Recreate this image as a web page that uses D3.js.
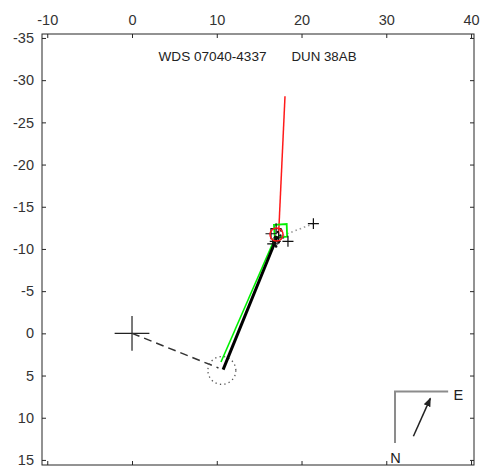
<!DOCTYPE html>
<html><head><meta charset="utf-8">
<script src="https://cdn.jsdelivr.net/npm/d3@7"></script>
<style>body{margin:0;background:#fff}svg{display:block}text{font-family:"Liberation Sans",Arial,sans-serif}</style>
</head><body><svg id="c" width="480" height="470"></svg>
<script>
const xTicks = [-10, 0, 10, 20, 30, 40];
const yTicks = [-35, -30, -25, -20, -15, -10, -5, 0, 5, 10, 15];
const xDomain = [-10.62, 40.35];
const yDomain = [-35.47, 15.6];
const titleLeft = "WDS 07040-4337";
const titleRight = "DUN 38AB";
const primary = [0, 0];
const dashedLine = [[0, 0], [10.2, 4.1]];
const dottedCircle = {c: [10.6, 4.4], r: 1.65};
const orbitBlack = [[10.75, 4.3], [17.15, -11.5]];
const orbitGreen = [[10.5, 3.4], [17.0, -11.6]];
const redLine = [[17.3, -11.8], [18.05, -28.1]];
const redCircle = {c: [17.05, -11.7], r: 0.77};
const greenSquare = [[16.75, -12.85], [18.25, -12.95], [18.3, -11.45], [16.85, -11.35]];
const greyDotted = [[17.8, -11.6], [21.4, -13.0]];
const obsPoints = [[16.4, -11.8], [16.6, -10.6], [18.4, -10.9], [21.4, -13.0], [17.3, -11.3], [17.0, -12.4], [16.9, -10.9]];
const blobPoints = [[17.2, -12.0], [17.5, -11.6], [16.9, -11.4], [17.3, -10.8], [17.0, -10.3], [17.6, -12.2]];
const compassCorner = [31.03, 6.9];
const compassN = [31.03, 13.0];
const compassE = [37.3, 6.9];
const compassArrow = [[33.2, 12.2], [35.2, 7.7]];
const labelE = [38.5, 7.3];
const labelN = [31.1, 14.8];

const svg = d3.select("#c");
const L = 42, R = 474, T = 34, B = 465;
const x = d3.scaleLinear().domain(xDomain).range([L, R]);
const y = d3.scaleLinear().domain(yDomain).range([T, B]);
const frameCol = "#262626";
const fmt = d => String(d);

svg.append("defs").append("marker").attr("id","ah").attr("viewBox","0 0 10 10")
  .attr("refX",9).attr("refY",5).attr("markerWidth",6).attr("markerHeight",6)
  .attr("orient","auto").append("path").attr("d","M0,1 L10,5 L0,9 Z").attr("fill","#222");

const line = d3.line().x(d => x(d[0])).y(d => y(d[1]));

// axes (ticks inward)
const gTop = svg.append("g").attr("transform", `translate(0,${T})`)
  .call(d3.axisTop(x).tickValues(xTicks).tickSizeInner(-4).tickSizeOuter(0).tickPadding(9).tickFormat(fmt));
const gBot = svg.append("g").attr("transform", `translate(0,${B})`)
  .call(d3.axisBottom(x).tickValues(xTicks).tickSizeInner(-4).tickSizeOuter(0).tickFormat(""));
const gLeft = svg.append("g").attr("transform", `translate(${L},0)`)
  .call(d3.axisLeft(y).tickValues(yTicks).tickSizeInner(-4).tickSizeOuter(0).tickPadding(8).tickFormat(fmt));
const gRight = svg.append("g").attr("transform", `translate(${R},0)`)
  .call(d3.axisRight(y).tickValues(yTicks).tickSizeInner(-4).tickSizeOuter(0).tickFormat(""));
[gTop, gBot, gLeft, gRight].forEach(g => {
  g.select(".domain").remove();
  g.selectAll(".tick line").attr("stroke", frameCol);
  g.selectAll("text").attr("fill", "#333").style("font-size", "14.5px")
    .style("font-family", '"Liberation Sans", Arial, sans-serif');
});
svg.append("rect").attr("x", L).attr("y", T).attr("width", R - L).attr("height", B - T)
  .attr("fill", "none").attr("stroke", frameCol).attr("stroke-width", 1);

// title
svg.append("text").attr("x", 158.5).attr("y", 60.5).attr("textLength", 108).attr("lengthAdjust","spacingAndGlyphs")
  .style("font-size", "12.5px").attr("fill", "#222").text(titleLeft);
svg.append("text").attr("x", 291.5).attr("y", 60.5).attr("textLength", 65).attr("lengthAdjust","spacingAndGlyphs")
  .style("font-size", "12.5px").attr("fill", "#222").text(titleRight);

// primary cross
const ps = 2.05;
svg.append("path").attr("d", `M${x(primary[0]-ps)},${y(primary[1])}H${x(primary[0]+ps)}M${x(primary[0])},${y(primary[1]-ps)}V${y(primary[1]+ps)}`)
  .attr("stroke", "#222").attr("stroke-width", 1.2).attr("fill","none");

// dashed line
svg.append("path").attr("d", line(dashedLine)).attr("stroke", "#333").attr("stroke-width", 1.5)
  .attr("stroke-dasharray", "8,5").attr("fill","none");

// dotted circle
svg.append("ellipse").attr("cx", x(dottedCircle.c[0])).attr("cy", y(dottedCircle.c[1]))
  .attr("rx", x(dottedCircle.r) - x(0)).attr("ry", y(dottedCircle.r) - y(0))
  .attr("fill","none").attr("stroke","#555").attr("stroke-width",1.3).attr("stroke-dasharray","1.3,3.2");

// grey dotted
svg.append("path").attr("d", line(greyDotted)).attr("stroke", "#999").attr("stroke-width", 1.6)
  .attr("stroke-dasharray", "1.5,3").attr("fill","none");

// red line
svg.append("path").attr("d", line(redLine)).attr("stroke", "#ff1a1a").attr("stroke-width", 1.5).attr("fill","none");

// green line and square
svg.append("path").attr("d", line(orbitGreen)).attr("stroke", "#00f000").attr("stroke-width", 1.6).attr("fill","none");
svg.append("path").attr("d", line(greenSquare) + "Z").attr("stroke", "#00f000").attr("stroke-width", 1.8).attr("fill","none");

// black orbit line
svg.append("path").attr("d", line(orbitBlack)).attr("stroke", "#000").attr("stroke-width", 3).attr("fill","none");

// observation crosses
const cs = 0.65;
svg.append("g").selectAll("path").data(obsPoints).join("path")
  .attr("d", d => `M${x(d[0]-cs)},${y(d[1])}H${x(d[0]+cs)}M${x(d[0])},${y(d[1]-cs)}V${y(d[1]+cs)}`)
  .attr("stroke", "#111").attr("stroke-width", 1.2).attr("fill","none");
svg.append("g").selectAll("circle").data(blobPoints).join("circle")
  .attr("cx", d => x(d[0])).attr("cy", d => y(d[1])).attr("r", 1.3).attr("fill", "#111");

// red circle on top
svg.append("ellipse").attr("cx", x(redCircle.c[0])).attr("cy", y(redCircle.c[1]))
  .attr("rx", x(redCircle.r) - x(0)).attr("ry", y(redCircle.r) - y(0))
  .attr("fill","none").attr("stroke","#ff1a1a").attr("stroke-width",1.5);

// compass
svg.append("path").attr("d", line([compassN, compassCorner, compassE]))
  .attr("stroke", "#8c8c8c").attr("stroke-width", 2).attr("fill","none");
svg.append("path").attr("d", line(compassArrow)).attr("stroke", "#222").attr("stroke-width", 1.5)
  .attr("fill","none").attr("marker-end","url(#ah)");
svg.append("text").attr("x", x(labelE[0])).attr("y", y(labelE[1])).attr("dy","0.35em")
  .attr("text-anchor","middle").style("font-size","14.5px").attr("fill","#222").text("E");
svg.append("text").attr("x", x(labelN[0])).attr("y", y(labelN[1])).attr("dy","0.35em")
  .attr("text-anchor","middle").style("font-size","14.5px").attr("fill","#222").text("N");
</script></body></html>
